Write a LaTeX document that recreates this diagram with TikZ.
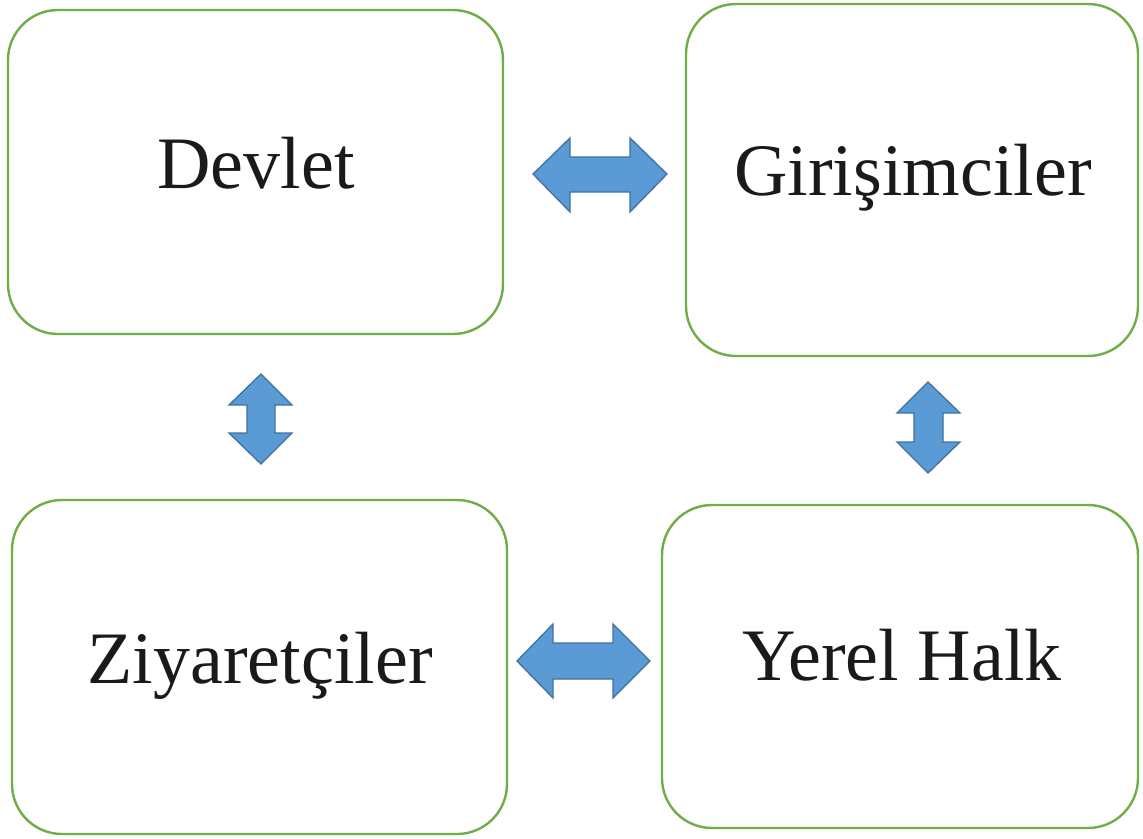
\documentclass[tikz,border=0pt]{standalone}
\usepackage{fontspec}
\setmainfont{Liberation Serif}
\definecolor{boxgreen}{HTML}{70AD47}
\definecolor{arrowfill}{HTML}{5B9BD5}
\definecolor{arrowline}{HTML}{41719C}
\definecolor{txt}{HTML}{1A1A1A}
\begin{document}
\begin{tikzpicture}[x=1pt,y=-1pt,
  stakeholder/.style={draw=boxgreen,line width=2.4pt,rounded corners=50pt,fill=white},
  lbl/.style={anchor=base,inner sep=0pt,text=txt,font=\fontsize{74}{80}\selectfont},
  blockarrow/.style={fill=arrowfill,draw=arrowline,line width=1.3pt,line join=miter}]
\useasboundingbox (0,0) rectangle (1143,838);
% boxes
\draw[stakeholder] (8,10) rectangle (503,334);
\draw[stakeholder] (686,4) rectangle (1138,356);
\draw[stakeholder] (12,500) rectangle (507,834);
\draw[stakeholder] (662,505) rectangle (1138,828);
\coordinate (devlet) at (255.5,172);
\coordinate (giri) at (912,180);
\coordinate (ziya) at (259.5,667);
\coordinate (yerel) at (900,666.5);
\node[lbl] (tdevlet) at (256,188) {Devlet};
\node[lbl] (tgiri) at (913,195) {Girişimciler};
\node[lbl] (tziya) at (260,683) {Ziyaretçiler};
\node[lbl] (tyerel) at (902,680) {Yerel Halk};
% arrows
\draw[blockarrow] (533,174) -- (570,138) -- (570,157) -- (630,157) -- (630,138) -- (667,174) -- (630,212) -- (630,192) -- (570,192) -- (570,212) -- cycle;
\draw[blockarrow] (261,374) -- (292,405) -- (275,405) -- (275,433) -- (292,433) -- (261,464) -- (229,433) -- (247,433) -- (247,405) -- (229,405) -- cycle;
\draw[blockarrow] (517,661) -- (553,624) -- (553,643) -- (613,643) -- (613,624) -- (650,661) -- (613,698) -- (613,679) -- (553,679) -- (553,698) -- cycle;
\draw[blockarrow] (928,382) -- (960,413) -- (943,413) -- (943,442) -- (960,442) -- (928,473) -- (897,442) -- (914,442) -- (914,413) -- (897,413) -- cycle;
\end{tikzpicture}
\end{document}
